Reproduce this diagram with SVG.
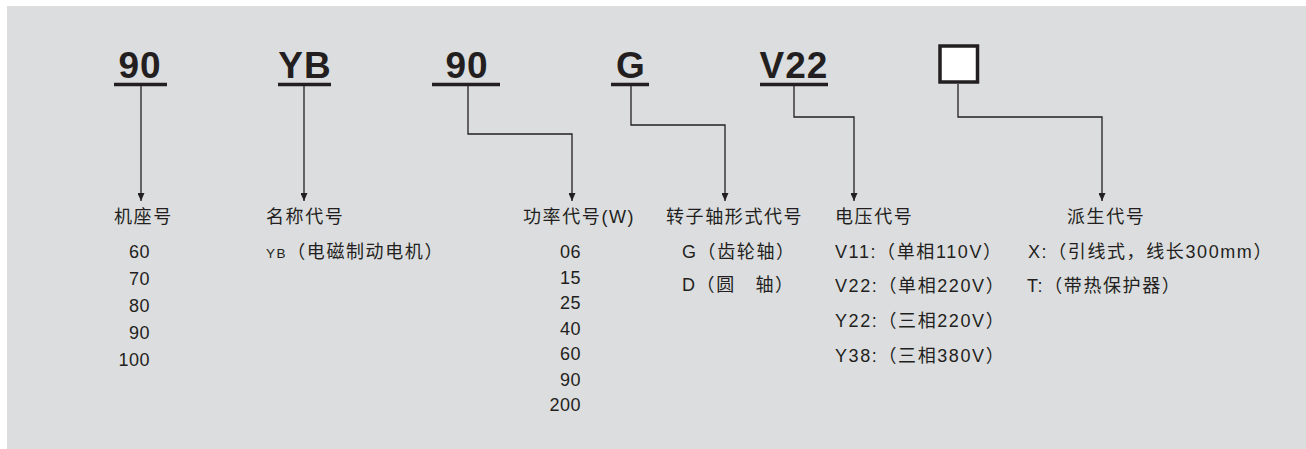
<svg xmlns="http://www.w3.org/2000/svg" width="1306" height="449" viewBox="0 0 1306 449">
<defs>
<marker id="arr" markerWidth="8" markerHeight="7" refX="8" refY="3.5" orient="auto" markerUnits="userSpaceOnUse" viewBox="0 0 8 7">
<path d="M0,0 L8,3.5 L0,7 Z" fill="#231f20"/>
</marker>
<style>
.code{font-family:"Liberation Sans",Arial,sans-serif;font-weight:bold;font-size:37px;fill:#231f20;letter-spacing:1px}
.ul{stroke:#231f20;stroke-width:3.5}
.lbl{font-family:"Liberation Sans","Noto Sans CJK SC",sans-serif;font-size:18px;fill:#231f20;letter-spacing:1.6px}
.num{font-family:"Liberation Sans","Noto Sans CJK SC",sans-serif;font-size:18px;fill:#231f20;text-anchor:end;letter-spacing:0.5px}
.conn{fill:none;stroke:#231f20;stroke-width:1.3}
</style>
</defs>
<rect x="7" y="6" width="1299" height="443" fill="#dcdddf"/>
<g id="node-frame">
<text class="code" x="140" y="78" text-anchor="middle">90</text>
<line class="ul" x1="114" y1="84.5" x2="167" y2="84.5"/>
<text class="lbl" x="114" y="223">机座号</text>
<text class="num" x="150" y="258">60</text>
<text class="num" x="150" y="285">70</text>
<text class="num" x="150" y="312">80</text>
<text class="num" x="150" y="339">90</text>
<text class="num" x="150" y="366">100</text>
</g>
<g id="node-name">
<text class="code" x="305" y="78" text-anchor="middle">YB</text>
<line class="ul" x1="278" y1="84.5" x2="331" y2="84.5"/>
<text class="lbl" x="266" y="223">名称代号</text>
<text class="lbl" x="266" y="258"><tspan font-size="13.5">YB</tspan>（电磁制动电机）</text>
</g>
<g id="node-power">
<text class="code" x="467" y="78" text-anchor="middle">90</text>
<line class="ul" x1="432" y1="84.5" x2="500" y2="84.5"/>
<text class="lbl" x="523" y="223" letter-spacing="1">功率代号(W)</text>
<text class="num" x="581" y="258">06</text>
<text class="num" x="581" y="283.5">15</text>
<text class="num" x="581" y="309">25</text>
<text class="num" x="581" y="334.5">40</text>
<text class="num" x="581" y="360">60</text>
<text class="num" x="581" y="385.5">90</text>
<text class="num" x="581" y="411">200</text>
</g>
<g id="node-shaft">
<text class="code" x="631" y="78" text-anchor="middle">G</text>
<line class="ul" x1="611" y1="84.5" x2="649" y2="84.5"/>
<text class="lbl" x="666" y="223" letter-spacing="1.3">转子轴形式代号</text>
<text class="lbl" x="682" y="258">G（齿轮轴）</text>
<text class="lbl" x="682" y="291">D（圆　轴）</text>
</g>
<g id="node-voltage">
<text class="code" x="794" y="78" text-anchor="middle">V22</text>
<line class="ul" x1="760" y1="84.5" x2="828" y2="84.5"/>
<text class="lbl" x="835" y="223">电压代号</text>
<text class="lbl" x="835" y="258">V11:（单相110V）</text>
<text class="lbl" x="835" y="292">V22:（单相220V）</text>
<text class="lbl" x="835" y="327">Y22:（三相220V）</text>
<text class="lbl" x="835" y="362">Y38:（三相380V）</text>
</g>
<g id="node-derived">
<rect x="940" y="46" width="37.5" height="36" fill="#ffffff" stroke="#231f20" stroke-width="3.5"/>
<text class="lbl" x="1067" y="223">派生代号</text>
<text class="lbl" x="1028" y="258">X:（引线式，线长300mm）</text>
<text class="lbl" x="1027" y="292">T:（带热保护器）</text>
</g>
<g id="connectors">
<path class="conn" d="M141,86 V201" marker-end="url(#arr)"/>
<path class="conn" d="M304,86 V201" marker-end="url(#arr)"/>
<path class="conn" d="M468,86 V134 H572 V201" marker-end="url(#arr)"/>
<path class="conn" d="M631,86 V125 H725 V201" marker-end="url(#arr)"/>
<path class="conn" d="M794,86 V117 H854 V201" marker-end="url(#arr)"/>
<path class="conn" d="M958,84 V117 H1102 V201" marker-end="url(#arr)"/>
</g>
</svg>
